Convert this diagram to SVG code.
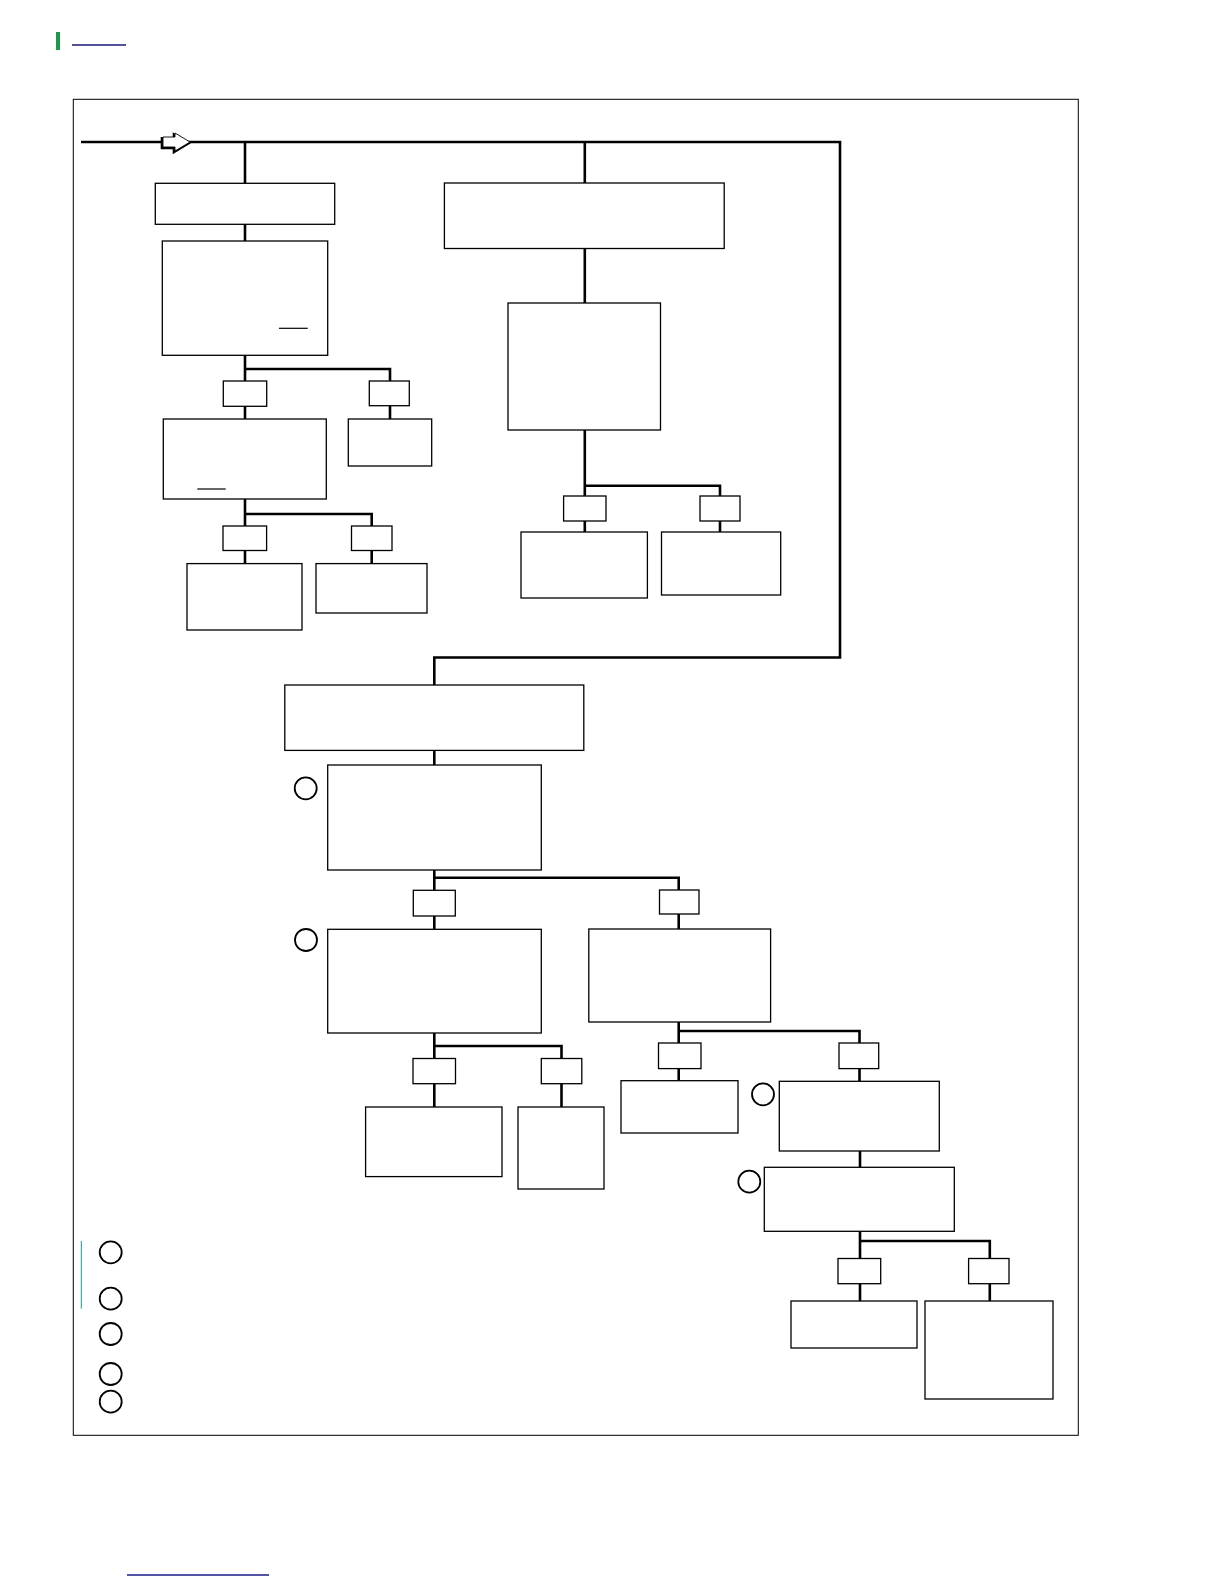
<svg xmlns="http://www.w3.org/2000/svg" width="1224" height="1584" viewBox="0 0 1224 1584">
<style>
.box{fill:#fff;stroke:#000;stroke-width:1.3}
.tag{fill:#fff;stroke:#000;stroke-width:1.3}
.conn{fill:none;stroke:#000;stroke-width:2.6}
.circ{fill:#fff;stroke:#000;stroke-width:1.8}
.ul{stroke:#000;stroke-width:1.2}
</style>
<rect width="1224" height="1584" fill="#fff"/>
<rect x="56" y="32" width="4" height="18" fill="#1a9a4a"/>
<line x1="72" y1="45" x2="126" y2="45" stroke="#1a1a7a" stroke-width="1.5"/>
<line x1="127" y1="1575" x2="269" y2="1575" stroke="#1a1a8a" stroke-width="1.5"/>
<rect id="frame" x="73.3" y="99.3" width="1005" height="1336" fill="none" stroke="#000" stroke-width="1"/>
<g id="connectors">
<path class="conn" d="M81 142 H840 V657.5 H434.3 V685"/>
<path class="conn" d="M245 142 V183"/>
<path class="conn" d="M245 224 V241"/>
<path class="conn" d="M245 355 V419 M245 369 H390 V381 M390 405.7 V419"/>
<path class="conn" d="M245 499 V563.6 M245 514 H371.7 V526 M371.7 550.5 V563.6"/>
<path class="conn" d="M584.8 142 V183 M584.8 248.5 V303 M584.8 430 V532 M584.8 485.8 H720 V496 M720 521 V532"/>
<path class="conn" d="M434.3 750.4 V765 M434.3 870 V929.3 M434.3 877.7 H678.7 V890 M678.7 914 V929"/>
<path class="conn" d="M434.3 1033 V1107 M434.3 1046 H561.5 V1058.5 M561.5 1083.7 V1107"/>
<path class="conn" d="M678.7 1022 V1080.7 M678.7 1031 H859.5 V1043 M859.5 1068.6 V1081.3 M860 1151 V1167.3"/>
<path class="conn" d="M860 1231.3 V1301 M860 1241 H989.8 V1258.5 M989.8 1283.7 V1301"/>
</g>
<g id="arrow">
<polygon points="163,137 175,137 175,133 190,142 175,151 175,147 163,147" fill="none" stroke="#000" stroke-width="2.2" transform="translate(-1.2,1.2)"/>
<polygon points="163,137 175,137 175,133 190,142 175,151 175,147 163,147" fill="#fff" stroke="#000" stroke-width="0.9"/>
</g>
<g id="n1"><rect class="box" x="155.3" y="183.3" width="179.4" height="41"/></g>
<g id="n2"><rect class="box" x="162.3" y="241" width="165.4" height="114.3"/><line class="ul" x1="279" y1="328.3" x2="307.7" y2="328.3"/></g>
<g id="t1"><rect class="tag" x="223.3" y="381" width="43.4" height="25.3"/></g>
<g id="t2"><rect class="tag" x="369.3" y="381" width="40" height="24.7"/></g>
<g id="n3"><rect class="box" x="163.3" y="419" width="163" height="80"/><line class="ul" x1="197.3" y1="489" x2="225.7" y2="489"/></g>
<g id="n4"><rect class="box" x="348.3" y="419" width="83.4" height="47"/></g>
<g id="t3"><rect class="tag" x="223" y="526" width="43.6" height="24.5"/></g>
<g id="t4"><rect class="tag" x="351.5" y="526" width="40.5" height="24.5"/></g>
<g id="n5"><rect class="box" x="187" y="563.6" width="115" height="66.4"/></g>
<g id="n6"><rect class="box" x="316" y="563.6" width="111" height="49.4"/></g>
<g id="n7"><rect class="box" x="444.4" y="183" width="279.8" height="65.5"/></g>
<g id="n8"><rect class="box" x="508" y="303" width="152.5" height="127"/></g>
<g id="t5"><rect class="tag" x="563.6" y="496" width="42.4" height="25"/></g>
<g id="t6"><rect class="tag" x="700" y="496" width="40" height="25"/></g>
<g id="n9"><rect class="box" x="521" y="532" width="126.4" height="66"/></g>
<g id="n10"><rect class="box" x="661.5" y="532" width="119.2" height="63"/></g>
<g id="n11"><rect class="box" x="284.8" y="685" width="299" height="65.4"/></g>
<g id="n12"><rect class="box" x="327.7" y="765" width="213.6" height="105"/><circle class="circ" cx="305.7" cy="788.3" r="11"/></g>
<g id="t7"><rect class="tag" x="413.3" y="890.3" width="42" height="25.7"/></g>
<g id="t8"><rect class="tag" x="659.5" y="890" width="39.5" height="24"/></g>
<g id="n13"><rect class="box" x="327.7" y="929.3" width="213.6" height="103.7"/><circle class="circ" cx="306" cy="940" r="11"/></g>
<g id="n14"><rect class="box" x="588.8" y="929" width="181.8" height="93"/></g>
<g id="t9"><rect class="tag" x="413" y="1058.5" width="42.5" height="25.2"/></g>
<g id="t10"><rect class="tag" x="541.3" y="1058.5" width="40.5" height="25.2"/></g>
<g id="n15"><rect class="box" x="365.6" y="1107" width="136.4" height="69.6"/></g>
<g id="n16"><rect class="box" x="518" y="1107" width="86" height="82"/></g>
<g id="t11"><rect class="tag" x="658.5" y="1043" width="42.5" height="25.6"/></g>
<g id="t12"><rect class="tag" x="839" y="1043" width="39.7" height="25.6"/></g>
<g id="n17"><rect class="box" x="621" y="1080.7" width="117" height="52.3"/></g>
<g id="n18"><rect class="box" x="779.3" y="1081.3" width="160" height="69.7"/><circle class="circ" cx="763" cy="1094.3" r="11"/></g>
<g id="n19"><rect class="box" x="764.3" y="1167.3" width="190" height="64"/><circle class="circ" cx="749.3" cy="1181.7" r="11"/></g>
<g id="t13"><rect class="tag" x="838" y="1258.5" width="42.7" height="25.2"/></g>
<g id="t14"><rect class="tag" x="968.6" y="1258.5" width="40.4" height="25.2"/></g>
<g id="n20"><rect class="box" x="791" y="1301" width="126" height="47"/></g>
<g id="n21"><rect class="box" x="925" y="1301" width="128" height="98"/></g>
<g id="legend">
<line x1="81.3" y1="1241" x2="81.3" y2="1308.7" stroke="#1a9a8a" stroke-width="1"/>
<circle class="circ" cx="110.7" cy="1252.3" r="11"/>
<circle class="circ" cx="110.7" cy="1298.7" r="11"/>
<circle class="circ" cx="110.7" cy="1334" r="11"/>
<circle class="circ" cx="110.7" cy="1374" r="11"/>
<circle class="circ" cx="110.7" cy="1401.7" r="11"/>
</g>
</svg>
